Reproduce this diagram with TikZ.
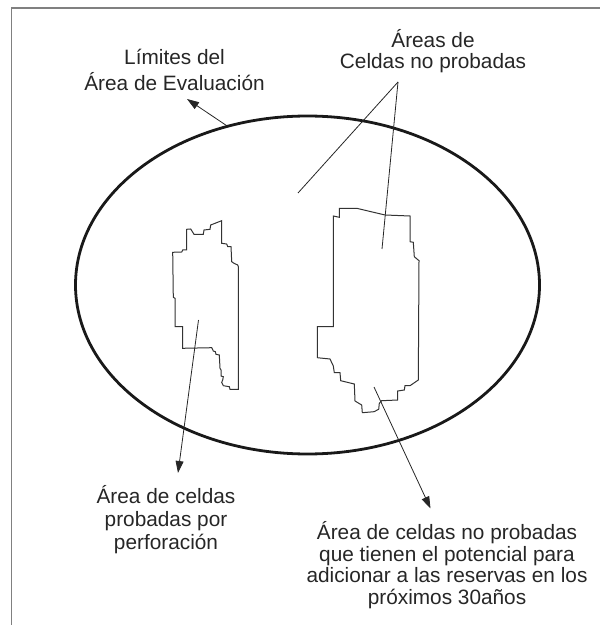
\documentclass[tikz,border=0pt]{standalone}
\usepackage{fontspec}
\setmainfont{Liberation Sans}
\usetikzlibrary{shapes.geometric,arrows.meta}
\definecolor{inkgray}{HTML}{262626}
\tikzstyle{tagnote} = [text=inkgray, align=center, inner sep=0pt, font=\fontsize{10.4}{10.8}\selectfont]
\tikzstyle{line} = [draw, line width=0.4pt, color=black!85]
\tikzstyle{arrow} = [draw, line width=0.4pt, color=black!85, -{Triangle[length=6pt,width=4pt]}]
\tikzstyle{cell} = [draw, line width=0.5pt, color=black!80]
\tikzstyle{bound} = [draw, ellipse, line width=1.4pt, color=black!90, minimum width=232pt, minimum height=169pt, inner sep=0pt]
\tikzstyle{frame} = [draw, color=black!50]
\newcommand{\tagnote}[3]{node (n#1) [tagnote,#2] {#3}}

\begin{document}
\begin{tikzpicture}[x=0.5pt,y=-0.5pt]
\useasboundingbox (0,0) rectangle (600,625);
% frame
\path [frame,line width=1pt] (11,8.5) -- (600,8.5);
\path [frame,line width=0.75pt] (11.7,8.5) -- (11.7,625);

% evaluation area
\node (eval) [bound] at (307.5,285) {};

% cells
\path [cell] (221.7,220.7) -- (221.7,243.3) -- (226.7,244) -- (227.7,246.7) -- (231,246.7)
  -- (231.7,261.7) -- (234,263.3) -- (237.7,265) -- (238.3,266.7) -- (238.3,389.3)
  -- (230,389.3) -- (229.3,386.7) -- (223.3,385.7) -- (221.7,382.3) -- (222.7,380)
  -- (223.3,376.7) -- (221,376) -- (221,370) -- (220,368.3) -- (219.3,355)
  -- (216,354.3) -- (215.3,351.7) -- (213.3,351) -- (211.7,347.7) -- (182.7,348.3)
  -- (182.7,326.7) -- (175,326.7) -- (175,298.3) -- (173.3,297.3) -- (172.7,252.3)
  -- (181.7,252) -- (182.7,250) -- (186.7,250) -- (186.7,229.3) -- (190.7,229)
  -- (194,234.3) -- (203.3,234.3) -- (204,230) -- (210,229.3) -- (210.7,225) -- cycle;
\path [cell] (339.3,208.3) -- (356.7,208.3) -- (385,215) -- (410,216) -- (410,241.7)
  -- (413.3,242.3) -- (414.3,256.7) -- (419,260.7) -- (418.3,380) -- (410,385.7)
  -- (405,385.7) -- (404.3,390) -- (397.7,391) -- (397.7,400) -- (381.7,400.7)
  -- (379.3,403.3) -- (378.7,409.3) -- (374,411.7) -- (362.3,412.7) -- (361.7,405)
  -- (355,401) -- (354.3,384) -- (340.7,380.7) -- (340,372.7) -- (334.3,372.7)
  -- (333.3,366) -- (330,359) -- (317.3,357.7) -- (317.3,326.7) -- (333.3,326.7)
  -- (333.3,216) -- (339.3,217.3) -- cycle;

% labels
\path (174.5,70) \tagnote{1}{font=\fontsize{10.4}{13}\selectfont}{Límites del\\Área de Evaluación};
\path (433,51) \tagnote{2}{}{Áreas de\\Celdas no probadas};
\path (166,520) \tagnote{3}{font=\fontsize{10.4}{11.5}\selectfont}{Área de celdas\\probadas por\\perforación};
\path (447,565) \tagnote{4}{}{Área de celdas no probadas\\que tienen el potencial para\\adicionar a las reservas en los\\próximos 30años};

% leaders
\coordinate (t1) at (187,99);
\coordinate (o2) at (398,82);
\coordinate (g1) at (298,193);
\coordinate (g2) at (382,249);
\coordinate (p1) at (198.5,320);
\coordinate (t3) at (178,473);
\coordinate (p2) at (374,387);
\coordinate (t4) at (430.5,508.5);
\path [arrow] (eval.117) -- (t1);
\path [line] (o2) -- (g1);
\path [line] (o2) -- (g2);
\path [arrow] (p1) -- (t3);
\path [arrow] (p2) -- (t4);
\end{tikzpicture}
\end{document}
